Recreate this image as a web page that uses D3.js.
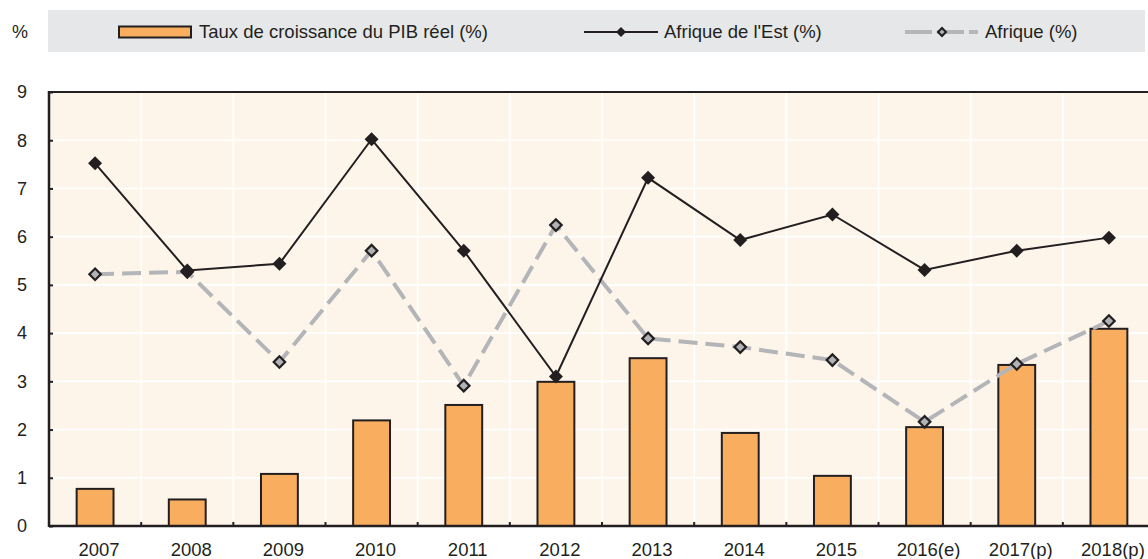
<!DOCTYPE html>
<html>
<head>
<meta charset="utf-8">
<script src="https://cdn.jsdelivr.net/npm/d3@7"></script>
<style>
  html, body { margin: 0; padding: 0; background: #ffffff; overflow: hidden; }
  svg { display: block; }
  text { font-family: "Liberation Sans", Arial, sans-serif; fill: #231f20; }
</style>
</head>
<body>
<svg id="chart" width="1148" height="559"></svg>
<script>
// ---- Data ----
const years = ["2007", "2008", "2009", "2010", "2011", "2012", "2013", "2014", "2015", "2016(e)", "2017(p)", "2018(p)"];
const gdpGrowth = [0.77, 0.55, 1.08, 2.19, 2.51, 2.99, 3.48, 1.93, 1.04, 2.05, 3.34, 4.09];
const eastAfrica = [7.52, 5.30, 5.44, 8.02, 5.71, 3.10, 7.22, 5.93, 6.46, 5.31, 5.71, 5.98];
const africa = [5.22, 5.27, 3.40, 5.71, 2.91, 6.24, 3.89, 3.71, 3.44, 2.16, 3.36, 4.25];
const yTicks = [0, 1, 2, 3, 4, 5, 6, 7, 8, 9];
const seriesNames = ["Taux de croissance du PIB réel (%)", "Afrique de l'Est (%)", "Afrique (%)"];
const unitLabel = "%";

// ---- Styles ----
const C = {
  dark: "#231f20",
  orange: "#f9ae5f",
  plotBg: "#fdf5ea",
  legendBg: "#e6e7e8",
  gray: "#b3b5b8",
  grayFill: "#b0b2b5"
};

const svg = d3.select("#chart");
const plot = { left: 49, right: 1155, top: 92, bottom: 526 };

const x = d3.scaleBand().domain(years).range([plot.left, plot.right]).padding(0);
const y = d3.scaleLinear().domain([0, 9]).range([plot.bottom, plot.top]);
const cx = d => x(d) + x.bandwidth() / 2;

// ---- Legend ----
const lg = svg.append("g");
lg.append("rect").attr("x", 48).attr("y", 10).attr("width", 1097).attr("height", 42).attr("fill", C.legendBg);
svg.append("text").attr("x", 20).attr("y", 32).attr("dy", "0.35em").attr("text-anchor", "middle")
  .style("font-size", "18px").text(unitLabel);

lg.append("rect").attr("x", 119).attr("y", 26.5).attr("width", 72).attr("height", 11)
  .attr("fill", C.orange).attr("stroke", C.dark).attr("stroke-width", 2);
lg.append("text").attr("x", 199).attr("y", 32).attr("dy", "0.35em").style("font-size", "18.5px").text(seriesNames[0]);

lg.append("line").attr("x1", 584).attr("x2", 658).attr("y1", 32).attr("y2", 32)
  .attr("stroke", C.dark).attr("stroke-width", 2);
lg.append("path").attr("d", d3.symbol(d3.symbolSquare, 50)())
  .attr("transform", "translate(621,32) rotate(45)").attr("fill", C.dark);
lg.append("text").attr("x", 664).attr("y", 32).attr("dy", "0.35em").style("font-size", "18.5px").text(seriesNames[1]);

lg.append("line").attr("x1", 905).attr("x2", 978).attr("y1", 32).attr("y2", 32)
  .attr("stroke", C.gray).attr("stroke-width", 4).attr("stroke-dasharray", "27,5");
lg.append("path").attr("d", d3.symbol(d3.symbolSquare, 32)())
  .attr("transform", "translate(942,32) rotate(45)").attr("fill", C.grayFill)
  .attr("stroke", C.dark).attr("stroke-width", 2);
lg.append("text").attr("x", 985).attr("y", 32).attr("dy", "0.35em").style("font-size", "18.5px").text(seriesNames[2]);

// ---- Plot background and grid ----
svg.append("rect").attr("x", plot.left).attr("y", plot.top)
  .attr("width", plot.right - plot.left).attr("height", plot.bottom - plot.top).attr("fill", C.plotBg);

const grid = svg.append("g");
grid.selectAll("line.h").data(yTicks.filter(t => t > 0 && t < 9)).join("line")
  .attr("x1", plot.left).attr("x2", plot.right)
  .attr("y1", d => y(d)).attr("y2", d => y(d))
  .attr("stroke", "#ffffff").attr("stroke-width", 1.6);
grid.selectAll("line.v").data(years.slice(1)).join("line")
  .attr("x1", d => x(d)).attr("x2", d => x(d))
  .attr("y1", plot.top).attr("y2", plot.bottom)
  .attr("stroke", "#ffffff").attr("stroke-width", 1.6);

// ---- Bars ----
const barW = x.bandwidth() * 0.4;
svg.append("g").selectAll("rect").data(years).join("rect")
  .attr("x", (d) => cx(d) - barW / 2)
  .attr("y", (d, i) => y(gdpGrowth[i]))
  .attr("width", barW)
  .attr("height", (d, i) => y(0) - y(gdpGrowth[i]))
  .attr("fill", C.orange).attr("stroke", C.dark).attr("stroke-width", 2);

// ---- Frame ----
svg.append("line").attr("x1", plot.left).attr("x2", plot.right).attr("y1", plot.top).attr("y2", plot.top)
  .attr("stroke", C.dark).attr("stroke-width", 2);
svg.append("line").attr("x1", plot.left).attr("x2", plot.left).attr("y1", plot.top - 1).attr("y2", plot.bottom + 1)
  .attr("stroke", C.dark).attr("stroke-width", 2.5);

// ---- Axes ----
const yAxis = svg.append("g").attr("transform", `translate(${plot.left},0)`)
  .call(d3.axisRight(y).tickValues(yTicks).tickSize(4).tickFormat(""));
yAxis.select(".domain").remove();
yAxis.selectAll(".tick line").attr("stroke", C.dark).attr("stroke-width", 2);
svg.append("g").selectAll("text").data(yTicks).join("text")
  .attr("x", 27).attr("y", d => y(d)).attr("dy", "0.35em").attr("text-anchor", "end")
  .style("font-size", "18px").text(d => d);

const xAxis = svg.append("g").attr("transform", `translate(0,${plot.bottom})`)
  .call(d3.axisBottom(x).tickSize(0).tickFormat(""));
xAxis.select(".domain").attr("stroke", C.dark).attr("stroke-width", 2.5).attr("d", `M${plot.left},0H${plot.right}`);
xAxis.selectAll(".tick").remove();
svg.append("g").selectAll("line").data(years.slice(1)).join("line")
  .attr("x1", d => x(d)).attr("x2", d => x(d))
  .attr("y1", plot.bottom).attr("y2", plot.bottom - 4)
  .attr("stroke", C.dark).attr("stroke-width", 2);
svg.append("g").selectAll("text").data(years).join("text")
  .attr("x", d => cx(d) + 4).attr("y", 556).attr("text-anchor", "middle")
  .style("font-size", "18.5px").text(d => d);

// ---- Lines ----
const lineGen = arr => d3.line().x((d, i) => cx(years[i])).y(d => y(d))(arr);

svg.append("path").attr("d", lineGen(africa)).attr("fill", "none")
  .attr("stroke", C.gray).attr("stroke-width", 4).attr("stroke-dasharray", "19,8");
svg.append("path").attr("d", lineGen(eastAfrica)).attr("fill", "none")
  .attr("stroke", C.dark).attr("stroke-width", 2);

svg.append("g").selectAll("path").data(africa).join("path")
  .attr("d", d3.symbol(d3.symbolSquare, 66)())
  .attr("transform", (d, i) => `translate(${cx(years[i])},${y(d)}) rotate(45)`)
  .attr("fill", C.grayFill).attr("stroke", C.dark).attr("stroke-width", 2.2);
svg.append("g").selectAll("path").data(eastAfrica).join("path")
  .attr("d", d3.symbol(d3.symbolSquare, 98)())
  .attr("transform", (d, i) => `translate(${cx(years[i])},${y(d)}) rotate(45)`)
  .attr("fill", C.dark);
</script>
</body>
</html>
